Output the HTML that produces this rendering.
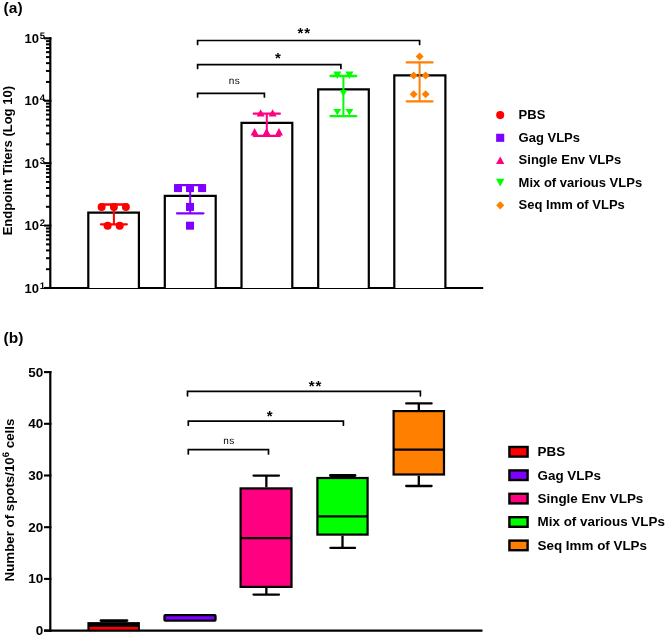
<!DOCTYPE html>
<html><head><meta charset="utf-8"><style>
html,body{margin:0;padding:0;background:#fff;}
svg{display:block;will-change:transform;font-family:"Liberation Sans",sans-serif;}
</style></head><body>
<svg width="666" height="637" viewBox="0 0 666 637">
<rect width="666" height="637" fill="#fff"/>
<text x="3.6" y="12.6" font-size="15.5" font-weight="bold" text-anchor="start" >(a)</text>
<line x1="50.3" y1="37.3" x2="50.3" y2="289" stroke="#000" stroke-width="2.2" stroke-linecap="butt"/>
<line x1="44" y1="288" x2="483.2" y2="288" stroke="#000" stroke-width="2.2" stroke-linecap="butt"/>
<line x1="44" y1="288.0" x2="51.4" y2="288.0" stroke="#000" stroke-width="2.1" stroke-linecap="butt"/>
<line x1="46" y1="269.20820252067597" x2="50" y2="269.20820252067597" stroke="#000" stroke-width="2.0" stroke-linecap="butt"/>
<line x1="46" y1="258.21570567412505" x2="50" y2="258.21570567412505" stroke="#000" stroke-width="2.0" stroke-linecap="butt"/>
<line x1="46" y1="250.41640504135194" x2="50" y2="250.41640504135194" stroke="#000" stroke-width="2.0" stroke-linecap="butt"/>
<line x1="46" y1="244.36679747932402" x2="50" y2="244.36679747932402" stroke="#000" stroke-width="2.0" stroke-linecap="butt"/>
<line x1="46" y1="239.42390819480104" x2="50" y2="239.42390819480104" stroke="#000" stroke-width="2.0" stroke-linecap="butt"/>
<line x1="46" y1="235.24475485211002" x2="50" y2="235.24475485211002" stroke="#000" stroke-width="2.0" stroke-linecap="butt"/>
<line x1="46" y1="231.62460756202793" x2="50" y2="231.62460756202793" stroke="#000" stroke-width="2.0" stroke-linecap="butt"/>
<line x1="46" y1="228.43141134825015" x2="50" y2="228.43141134825015" stroke="#000" stroke-width="2.0" stroke-linecap="butt"/>
<line x1="44" y1="225.575" x2="51.4" y2="225.575" stroke="#000" stroke-width="2.1" stroke-linecap="butt"/>
<line x1="46" y1="206.78320252067596" x2="50" y2="206.78320252067596" stroke="#000" stroke-width="2.0" stroke-linecap="butt"/>
<line x1="46" y1="195.79070567412506" x2="50" y2="195.79070567412506" stroke="#000" stroke-width="2.0" stroke-linecap="butt"/>
<line x1="46" y1="187.99140504135192" x2="50" y2="187.99140504135192" stroke="#000" stroke-width="2.0" stroke-linecap="butt"/>
<line x1="46" y1="181.94179747932404" x2="50" y2="181.94179747932404" stroke="#000" stroke-width="2.0" stroke-linecap="butt"/>
<line x1="46" y1="176.99890819480106" x2="50" y2="176.99890819480106" stroke="#000" stroke-width="2.0" stroke-linecap="butt"/>
<line x1="46" y1="172.81975485211" x2="50" y2="172.81975485211" stroke="#000" stroke-width="2.0" stroke-linecap="butt"/>
<line x1="46" y1="169.19960756202792" x2="50" y2="169.19960756202792" stroke="#000" stroke-width="2.0" stroke-linecap="butt"/>
<line x1="46" y1="166.00641134825014" x2="50" y2="166.00641134825014" stroke="#000" stroke-width="2.0" stroke-linecap="butt"/>
<line x1="44" y1="163.15" x2="51.4" y2="163.15" stroke="#000" stroke-width="2.1" stroke-linecap="butt"/>
<line x1="46" y1="144.35820252067597" x2="50" y2="144.35820252067597" stroke="#000" stroke-width="2.0" stroke-linecap="butt"/>
<line x1="46" y1="133.36570567412508" x2="50" y2="133.36570567412508" stroke="#000" stroke-width="2.0" stroke-linecap="butt"/>
<line x1="46" y1="125.56640504135194" x2="50" y2="125.56640504135194" stroke="#000" stroke-width="2.0" stroke-linecap="butt"/>
<line x1="46" y1="119.51679747932403" x2="50" y2="119.51679747932403" stroke="#000" stroke-width="2.0" stroke-linecap="butt"/>
<line x1="46" y1="114.57390819480105" x2="50" y2="114.57390819480105" stroke="#000" stroke-width="2.0" stroke-linecap="butt"/>
<line x1="46" y1="110.39475485211003" x2="50" y2="110.39475485211003" stroke="#000" stroke-width="2.0" stroke-linecap="butt"/>
<line x1="46" y1="106.77460756202791" x2="50" y2="106.77460756202791" stroke="#000" stroke-width="2.0" stroke-linecap="butt"/>
<line x1="46" y1="103.58141134825016" x2="50" y2="103.58141134825016" stroke="#000" stroke-width="2.0" stroke-linecap="butt"/>
<line x1="44" y1="100.72500000000002" x2="51.4" y2="100.72500000000002" stroke="#000" stroke-width="2.1" stroke-linecap="butt"/>
<line x1="46" y1="81.93320252067599" x2="50" y2="81.93320252067599" stroke="#000" stroke-width="2.0" stroke-linecap="butt"/>
<line x1="46" y1="70.94070567412507" x2="50" y2="70.94070567412507" stroke="#000" stroke-width="2.0" stroke-linecap="butt"/>
<line x1="46" y1="63.14140504135196" x2="50" y2="63.14140504135196" stroke="#000" stroke-width="2.0" stroke-linecap="butt"/>
<line x1="46" y1="57.09179747932404" x2="50" y2="57.09179747932404" stroke="#000" stroke-width="2.0" stroke-linecap="butt"/>
<line x1="46" y1="52.14890819480104" x2="50" y2="52.14890819480104" stroke="#000" stroke-width="2.0" stroke-linecap="butt"/>
<line x1="46" y1="47.969754852110015" x2="50" y2="47.969754852110015" stroke="#000" stroke-width="2.0" stroke-linecap="butt"/>
<line x1="46" y1="44.34960756202793" x2="50" y2="44.34960756202793" stroke="#000" stroke-width="2.0" stroke-linecap="butt"/>
<line x1="46" y1="41.156411348250145" x2="50" y2="41.156411348250145" stroke="#000" stroke-width="2.0" stroke-linecap="butt"/>
<line x1="44" y1="38.30000000000001" x2="51.4" y2="38.30000000000001" stroke="#000" stroke-width="2.1" stroke-linecap="butt"/>
<text x="39" y="292.5" font-size="13" font-weight="bold" text-anchor="end">10</text>
<text x="39.7" y="288.7" font-size="9.5" font-weight="bold" style="text-rendering:geometricPrecision">1</text>
<text x="39" y="230.075" font-size="13" font-weight="bold" text-anchor="end">10</text>
<text x="39.7" y="226.27499999999998" font-size="9.5" font-weight="bold" style="text-rendering:geometricPrecision">2</text>
<text x="39" y="167.65" font-size="13" font-weight="bold" text-anchor="end">10</text>
<text x="39.7" y="163.85" font-size="9.5" font-weight="bold" style="text-rendering:geometricPrecision">3</text>
<text x="39" y="105.22500000000002" font-size="13" font-weight="bold" text-anchor="end">10</text>
<text x="39.7" y="101.42500000000003" font-size="9.5" font-weight="bold" style="text-rendering:geometricPrecision">4</text>
<text x="39" y="42.80000000000001" font-size="13" font-weight="bold" text-anchor="end">10</text>
<text x="39.7" y="39.000000000000014" font-size="9.5" font-weight="bold" style="text-rendering:geometricPrecision">5</text>
<text transform="translate(12.2,235.3) rotate(-90)" font-size="13" font-weight="bold">Endpoint Titers (Log 10)</text>
<path d="M88.3,288 V212.6 H138.9 V288" fill="#fff" stroke="#000" stroke-width="2.2"/>
<path d="M164.79999999999998,288 V195.79999999999998 H215.70000000000002 V288" fill="#fff" stroke="#000" stroke-width="2.2"/>
<path d="M241.5,288 V122.8 H292.29999999999995 V288" fill="#fff" stroke="#000" stroke-width="2.2"/>
<path d="M318.20000000000005,288 V89.3 H368.79999999999995 V288" fill="#fff" stroke="#000" stroke-width="2.2"/>
<path d="M394.3,288 V75.3 H445.4 V288" fill="#fff" stroke="#000" stroke-width="2.2"/>
<line x1="113.9" y1="204.5" x2="113.9" y2="224.3" stroke="#ff0000" stroke-width="2" stroke-linecap="butt"/>
<line x1="101.0" y1="204.5" x2="126.80000000000001" y2="204.5" stroke="#ff0000" stroke-width="2.3" stroke-linecap="round"/>
<line x1="101.0" y1="224.3" x2="126.80000000000001" y2="224.3" stroke="#ff0000" stroke-width="2.3" stroke-linecap="round"/>
<circle cx="101.6" cy="206.9" r="4" fill="#ff0000"/>
<circle cx="113.9" cy="206.9" r="4" fill="#ff0000"/>
<circle cx="125.9" cy="206.9" r="4" fill="#ff0000"/>
<circle cx="107.6" cy="225.8" r="4" fill="#ff0000"/>
<circle cx="119.7" cy="225.8" r="4" fill="#ff0000"/>
<line x1="190.2" y1="185.2" x2="190.2" y2="213.3" stroke="#8000ff" stroke-width="2" stroke-linecap="butt"/>
<line x1="177.0" y1="185.2" x2="203.39999999999998" y2="185.2" stroke="#8000ff" stroke-width="2.3" stroke-linecap="round"/>
<line x1="177.0" y1="213.3" x2="203.39999999999998" y2="213.3" stroke="#8000ff" stroke-width="2.3" stroke-linecap="round"/>
<rect x="174.0" y="184.1" width="8" height="8" fill="#8000ff"/>
<rect x="186.0" y="184.1" width="8" height="8" fill="#8000ff"/>
<rect x="198.1" y="184.1" width="8" height="8" fill="#8000ff"/>
<rect x="186.0" y="202.9" width="8" height="8" fill="#8000ff"/>
<rect x="186.0" y="221.7" width="8" height="8" fill="#8000ff"/>
<line x1="266.8" y1="113.7" x2="266.8" y2="135.9" stroke="#ff0080" stroke-width="2" stroke-linecap="butt"/>
<line x1="253.8" y1="113.7" x2="279.8" y2="113.7" stroke="#ff0080" stroke-width="2.3" stroke-linecap="round"/>
<line x1="253.8" y1="135.9" x2="279.8" y2="135.9" stroke="#ff0080" stroke-width="2.3" stroke-linecap="round"/>
<path d="M260.6,109.3 L264.6,116.6 L256.6,116.6Z" fill="#ff0080"/>
<path d="M272.6,109.3 L276.6,116.6 L268.6,116.6Z" fill="#ff0080"/>
<path d="M254.6,128.1 L258.6,135.5 L250.6,135.5Z" fill="#ff0080"/>
<path d="M266.6,128.1 L270.6,135.5 L262.6,135.5Z" fill="#ff0080"/>
<path d="M279,128.1 L283.0,135.5 L275.0,135.5Z" fill="#ff0080"/>
<line x1="343.4" y1="76" x2="343.4" y2="116.2" stroke="#00ff00" stroke-width="2" stroke-linecap="butt"/>
<line x1="330.5" y1="76" x2="356.29999999999995" y2="76" stroke="#00ff00" stroke-width="2.3" stroke-linecap="round"/>
<line x1="330.5" y1="116.2" x2="356.29999999999995" y2="116.2" stroke="#00ff00" stroke-width="2.3" stroke-linecap="round"/>
<path d="M333.3,71.6 L341.3,71.6 L337.3,78.9Z" fill="#00ff00"/>
<path d="M345.4,71.6 L353.4,71.6 L349.4,78.9Z" fill="#00ff00"/>
<path d="M339.4,90 L347.4,90 L343.4,96.3Z" fill="#00ff00"/>
<path d="M333.3,108.9 L341.3,108.9 L337.3,115.2Z" fill="#00ff00"/>
<path d="M345.4,108.9 L353.4,108.9 L349.4,115.2Z" fill="#00ff00"/>
<line x1="419.6" y1="62.4" x2="419.6" y2="101.3" stroke="#ff8000" stroke-width="2" stroke-linecap="butt"/>
<line x1="406.70000000000005" y1="62.4" x2="432.5" y2="62.4" stroke="#ff8000" stroke-width="2.3" stroke-linecap="round"/>
<line x1="406.70000000000005" y1="101.3" x2="432.5" y2="101.3" stroke="#ff8000" stroke-width="2.3" stroke-linecap="round"/>
<path d="M419.6,52.6 L423.6,56.6 L419.6,60.6 L415.6,56.6Z" fill="#ff8000"/>
<path d="M413.7,71.5 L417.7,75.5 L413.7,79.5 L409.7,75.5Z" fill="#ff8000"/>
<path d="M425.6,71.5 L429.6,75.5 L425.6,79.5 L421.6,75.5Z" fill="#ff8000"/>
<path d="M413.7,90.3 L417.7,94.3 L413.7,98.3 L409.7,94.3Z" fill="#ff8000"/>
<path d="M425.6,90.3 L429.6,94.3 L425.6,98.3 L421.6,94.3Z" fill="#ff8000"/>
<path d="M197.6,44.5 V40.5 H419.6 V44.5" fill="none" stroke="#000" stroke-width="1.7" stroke-linecap="round"/>
<path d="M197.6,68.5 V64.6 H340.9 V68.5" fill="none" stroke="#000" stroke-width="1.7" stroke-linecap="round"/>
<path d="M197.6,97 V93.3 H264.4 V97" fill="none" stroke="#000" stroke-width="1.7" stroke-linecap="round"/>
<text x="300.4" y="38" font-size="15" font-weight="bold" text-anchor="middle" >*</text>
<text x="307.2" y="38" font-size="15" font-weight="bold" text-anchor="middle" >*</text>
<text x="277.8" y="62.9" font-size="15" font-weight="bold" text-anchor="middle" >*</text>
<text x="228.7" y="83.9" font-size="10" font-weight="normal" text-anchor="start" letter-spacing="0.6" style="text-rendering:geometricPrecision">ns</text>
<circle cx="500.2" cy="115.1" r="4.05" fill="#ff0000"/>
<rect x="496.15" y="133.75" width="8.1" height="8.1" fill="#8000ff"/>
<path d="M500.2,156.5 L504.4,164.10000000000002 L496.0,164.10000000000002Z" fill="#ff0080"/>
<path d="M496.0,178.79999999999998 L504.4,178.79999999999998 L500.2,186.4Z" fill="#00ff00"/>
<path d="M500.2,201.20000000000002 L504.3,205.3 L500.2,209.4 L496.09999999999997,205.3Z" fill="#ff8000"/>
<text x="518.6" y="119.0" font-size="13" font-weight="bold" text-anchor="start" >PBS</text>
<text x="518.6" y="141.70000000000002" font-size="13" font-weight="bold" text-anchor="start" >Gag VLPs</text>
<text x="518.6" y="164.20000000000002" font-size="13" font-weight="bold" text-anchor="start" >Single Env VLPs</text>
<text x="518.6" y="186.5" font-size="13" font-weight="bold" text-anchor="start" >Mix of various VLPs</text>
<text x="518.6" y="209.20000000000002" font-size="13" font-weight="bold" text-anchor="start" >Seq Imm of VLPs</text>
<text x="3.6" y="343.2" font-size="15.5" font-weight="bold" text-anchor="start" >(b)</text>
<line x1="50.3" y1="371" x2="50.3" y2="631.7" stroke="#000" stroke-width="2.2" stroke-linecap="butt"/>
<line x1="44" y1="630.7" x2="482.5" y2="630.7" stroke="#000" stroke-width="2.2" stroke-linecap="butt"/>
<line x1="44" y1="630.6" x2="51.4" y2="630.6" stroke="#000" stroke-width="2.1" stroke-linecap="butt"/>
<text x="43.2" y="635.0" font-size="13.5" font-weight="bold" text-anchor="end" >0</text>
<line x1="44" y1="578.9" x2="51.4" y2="578.9" stroke="#000" stroke-width="2.1" stroke-linecap="butt"/>
<text x="43.2" y="583.3" font-size="13.5" font-weight="bold" text-anchor="end" >10</text>
<line x1="44" y1="527.2" x2="51.4" y2="527.2" stroke="#000" stroke-width="2.1" stroke-linecap="butt"/>
<text x="43.2" y="531.6" font-size="13.5" font-weight="bold" text-anchor="end" >20</text>
<line x1="44" y1="475.5" x2="51.4" y2="475.5" stroke="#000" stroke-width="2.1" stroke-linecap="butt"/>
<text x="43.2" y="479.9" font-size="13.5" font-weight="bold" text-anchor="end" >30</text>
<line x1="44" y1="423.8" x2="51.4" y2="423.8" stroke="#000" stroke-width="2.1" stroke-linecap="butt"/>
<text x="43.2" y="428.2" font-size="13.5" font-weight="bold" text-anchor="end" >40</text>
<line x1="44" y1="372.1" x2="51.4" y2="372.1" stroke="#000" stroke-width="2.1" stroke-linecap="butt"/>
<text x="43.2" y="376.5" font-size="13.5" font-weight="bold" text-anchor="end" >50</text>
<text transform="translate(13.7,581.4) rotate(-90)" font-size="13.3" font-weight="bold">Number of spots/10<tspan font-size="9.5" style="text-rendering:geometricPrecision" dy="-4.8">6</tspan><tspan dy="4.8"> cells</tspan></text>
<rect x="87.4" y="622.1" width="52.5" height="9" fill="#000"/>
<rect x="89.4" y="626.9" width="48.6" height="2.7" fill="#ff0000"/>
<line x1="101" y1="620.6" x2="126.9" y2="620.6" stroke="#000" stroke-width="2.9" stroke-linecap="round"/>
<rect x="164.5" y="615.1" width="51" height="5.5" fill="#8000ff" stroke="#000" stroke-width="2.3" rx="0.8"/>
<line x1="266.35" y1="475.6" x2="266.35" y2="487.3" stroke="#000" stroke-width="2.3" stroke-linecap="butt"/>
<line x1="266.35" y1="588" x2="266.35" y2="594.6" stroke="#000" stroke-width="2.3" stroke-linecap="butt"/>
<line x1="253.5" y1="475.6" x2="279.0" y2="475.6" stroke="#000" stroke-width="2.3" stroke-linecap="round"/>
<line x1="253.5" y1="594.6" x2="279.0" y2="594.6" stroke="#000" stroke-width="2.3" stroke-linecap="round"/>
<rect x="240.6" y="488.40000000000003" width="50.90000000000002" height="98.49999999999999" fill="#ff0080" stroke="#000" stroke-width="2.2"/>
<line x1="240.6" y1="538.2" x2="291.5" y2="538.2" stroke="#000" stroke-width="2.2" stroke-linecap="butt"/>
<line x1="342.5" y1="475.5" x2="342.5" y2="476.9" stroke="#000" stroke-width="2.3" stroke-linecap="butt"/>
<line x1="342.5" y1="535.7" x2="342.5" y2="547.9" stroke="#000" stroke-width="2.3" stroke-linecap="butt"/>
<line x1="330.40000000000003" y1="475.5" x2="355.0" y2="475.5" stroke="#000" stroke-width="2.8" stroke-linecap="round"/>
<line x1="330.40000000000003" y1="547.9" x2="355.0" y2="547.9" stroke="#000" stroke-width="2.3" stroke-linecap="round"/>
<rect x="317.40000000000003" y="478.0" width="50.199999999999974" height="56.600000000000065" fill="#00ff00" stroke="#000" stroke-width="2.2"/>
<line x1="317.40000000000003" y1="516.4" x2="367.59999999999997" y2="516.4" stroke="#000" stroke-width="2.2" stroke-linecap="butt"/>
<line x1="418.8" y1="403.4" x2="418.8" y2="410" stroke="#000" stroke-width="2.3" stroke-linecap="butt"/>
<line x1="418.8" y1="475.6" x2="418.8" y2="486" stroke="#000" stroke-width="2.3" stroke-linecap="butt"/>
<line x1="406.20000000000005" y1="403.4" x2="431.59999999999997" y2="403.4" stroke="#000" stroke-width="2.3" stroke-linecap="round"/>
<line x1="406.20000000000005" y1="486" x2="431.59999999999997" y2="486" stroke="#000" stroke-width="2.3" stroke-linecap="round"/>
<rect x="393.6" y="411.1" width="50.40000000000002" height="63.40000000000002" fill="#ff8000" stroke="#000" stroke-width="2.2"/>
<line x1="393.6" y1="449.6" x2="444.0" y2="449.6" stroke="#000" stroke-width="2.2" stroke-linecap="butt"/>
<path d="M187.5,395.8 V391.4 H420.4 V395.8" fill="none" stroke="#000" stroke-width="1.7" stroke-linecap="round"/>
<path d="M188.3,425.2 V421.1 H343.4 V425.2" fill="none" stroke="#000" stroke-width="1.7" stroke-linecap="round"/>
<path d="M188.3,454 V449.6 H268.5 V454" fill="none" stroke="#000" stroke-width="1.7" stroke-linecap="round"/>
<text x="311.6" y="390.9" font-size="15" font-weight="bold" text-anchor="middle" >*</text>
<text x="318.5" y="390.9" font-size="15" font-weight="bold" text-anchor="middle" >*</text>
<text x="269.7" y="420.9" font-size="15" font-weight="bold" text-anchor="middle" >*</text>
<text x="223.2" y="444.2" font-size="10" font-weight="normal" text-anchor="start" letter-spacing="0.6" style="text-rendering:geometricPrecision">ns</text>
<rect x="509.4" y="447.0" width="18.200000000000003" height="9.6" fill="#ff0000" stroke="#000" stroke-width="2.4"/>
<text x="537.6" y="456.1" font-size="13.4" font-weight="bold" text-anchor="start" >PBS</text>
<rect x="509.4" y="470.4" width="18.200000000000003" height="9.6" fill="#8000ff" stroke="#000" stroke-width="2.4"/>
<text x="537.6" y="479.5" font-size="13.4" font-weight="bold" text-anchor="start" >Gag VLPs</text>
<rect x="509.4" y="493.8" width="18.200000000000003" height="9.6" fill="#ff0080" stroke="#000" stroke-width="2.4"/>
<text x="537.6" y="502.90000000000003" font-size="13.4" font-weight="bold" text-anchor="start" >Single Env VLPs</text>
<rect x="509.4" y="517.2" width="18.200000000000003" height="9.6" fill="#00ff00" stroke="#000" stroke-width="2.4"/>
<text x="537.6" y="526.3" font-size="13.4" font-weight="bold" text-anchor="start" >Mix of various VLPs</text>
<rect x="509.4" y="540.6" width="18.200000000000003" height="9.6" fill="#ff8000" stroke="#000" stroke-width="2.4"/>
<text x="537.6" y="549.6999999999999" font-size="13.4" font-weight="bold" text-anchor="start" >Seq Imm of VLPs</text>
</svg>
</body></html>
